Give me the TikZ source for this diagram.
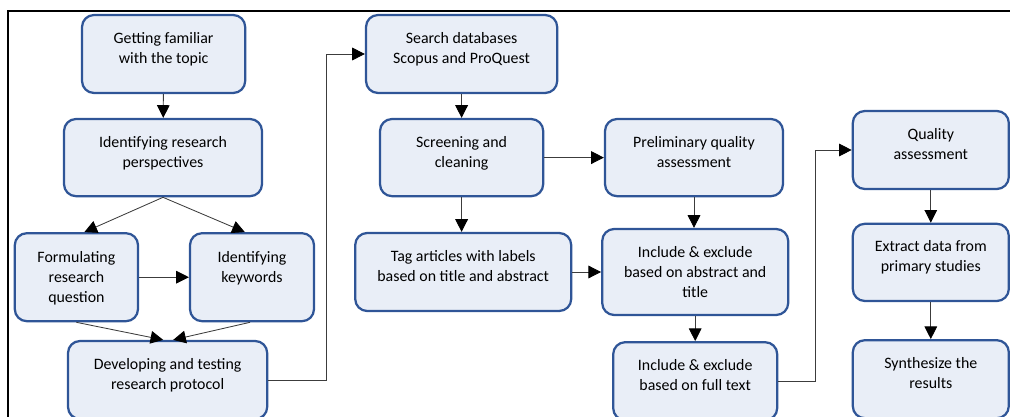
\documentclass[tikz,border=0pt]{standalone}
\usepackage{fontspec}
\setmainfont{Carlito}
\usetikzlibrary{arrows.meta}
\definecolor{boxfill}{RGB}{233,238,247}
\definecolor{boxline}{RGB}{47,85,151}
\definecolor{linegray}{RGB}{60,60,60}
\tikzset{
  stepbox/.style={draw=boxline, fill=boxfill, line width=1.6pt, rounded corners=0.3cm,
    align=center, font=\fontsize{11.3}{14.3}\selectfont, inner sep=2pt,
    text depth=0.3cm}, % 文字を少し上へ
  flow/.style={draw=linegray, line width=0.6pt, -{Triangle[length=9pt,width=9pt,color=black]}}
}
\begin{document}
\begin{tikzpicture}
  \useasboundingbox (0,0) rectangle (25.25,-10.425); % 画像の大きさ
  \draw[line width=1.1pt] (0.2,-10.6) -- (0.2,-0.27) -- (25.4,-0.27); % 外枠

  % 左の列
  \node[stepbox, minimum width=4.08cm, minimum height=1.95cm] (fam) at (4.09,-1.35) {Getting familiar\\with the topic};
  \node[stepbox, minimum width=4.95cm, minimum height=1.93cm] (persp) at (4.075,-3.94) {Identifying research\\perspectives};
  \node[stepbox, minimum width=3.08cm, minimum height=2.2cm, text depth=0cm] (quest) at (1.91,-6.93) {Formulating\\research\\question};
  \node[stepbox, minimum width=3.1cm, minimum height=2.2cm, text depth=0.5cm] (keyw) at (6.3,-6.93) {Identifying\\keywords};
  \node[stepbox, minimum width=4.98cm, minimum height=1.95cm] (proto) at (4.19,-9.5) {Developing and testing\\research protocol};

  % 中央の列
  \node[stepbox, minimum width=4.78cm, minimum height=1.95cm] (search) at (11.54,-1.35) {Search databases\\Scopus and ProQuest};
  \node[stepbox, minimum width=4.08cm, minimum height=1.93cm] (screen) at (11.54,-3.94) {Screening and\\cleaning};
  \node[stepbox, minimum width=5.4cm, minimum height=1.95cm] (tag) at (11.58,-6.8) {Tag articles with labels\\based on title and abstract};
  \node[stepbox, minimum width=4.45cm, minimum height=1.93cm] (prelim) at (17.35,-3.94) {Preliminary quality\\assessment};
  \node[stepbox, minimum width=4.65cm, minimum height=2.15cm, text depth=0cm] (incla) at (17.38,-6.8) {Include \& exclude\\based on abstract and\\title};
  \node[stepbox, minimum width=4.1cm, minimum height=1.95cm] (inclb) at (17.38,-9.53) {Include \& exclude\\based on full text};

  % 右の列
  \node[stepbox, minimum width=3.9cm, minimum height=1.95cm] (qual) at (23.27,-3.75) {Quality\\assessment};
  \node[stepbox, minimum width=3.9cm, minimum height=1.93cm] (extract) at (23.27,-6.56) {Extract data from\\primary studies};
  \node[stepbox, minimum width=3.9cm, minimum height=1.95cm] (synth) at (23.27,-9.48) {Synthesize the\\results};

  % 矢印
  \draw[flow] (fam) -- (persp);
  \draw[flow] (persp.south) -- ([xshift=0.2cm]quest.north);
  \draw[flow] (persp.south) -- ([xshift=-0.18cm]keyw.north);
  \draw[flow] (quest) -- (keyw);
  \draw[flow] (quest.south) -- ([xshift=-0.11cm]proto.north);
  \draw[flow] ([xshift=-0.05cm]keyw.south) -- ([xshift=0.14cm]proto.north);
  \draw[flow] (proto.east) -- ++(1.45,0) |- (search.west); % 折れ線
  \draw[flow] (search) -- (screen);
  \draw[flow] (screen) -- (prelim);
  \draw[flow] (screen.south) -- (screen.south |- tag.north);
  \draw[flow] (tag) -- (incla);
  \draw[flow] (prelim.south) -- (prelim.south |- incla.north);
  \draw[flow] (incla) -- (inclb);
  \draw[flow] (inclb.east) -- ++(0.925,0) |- (qual.west); % 折れ線
  \draw[flow] (qual) -- (extract);
  \draw[flow] (extract) -- (synth);
\end{tikzpicture}
\end{document}
